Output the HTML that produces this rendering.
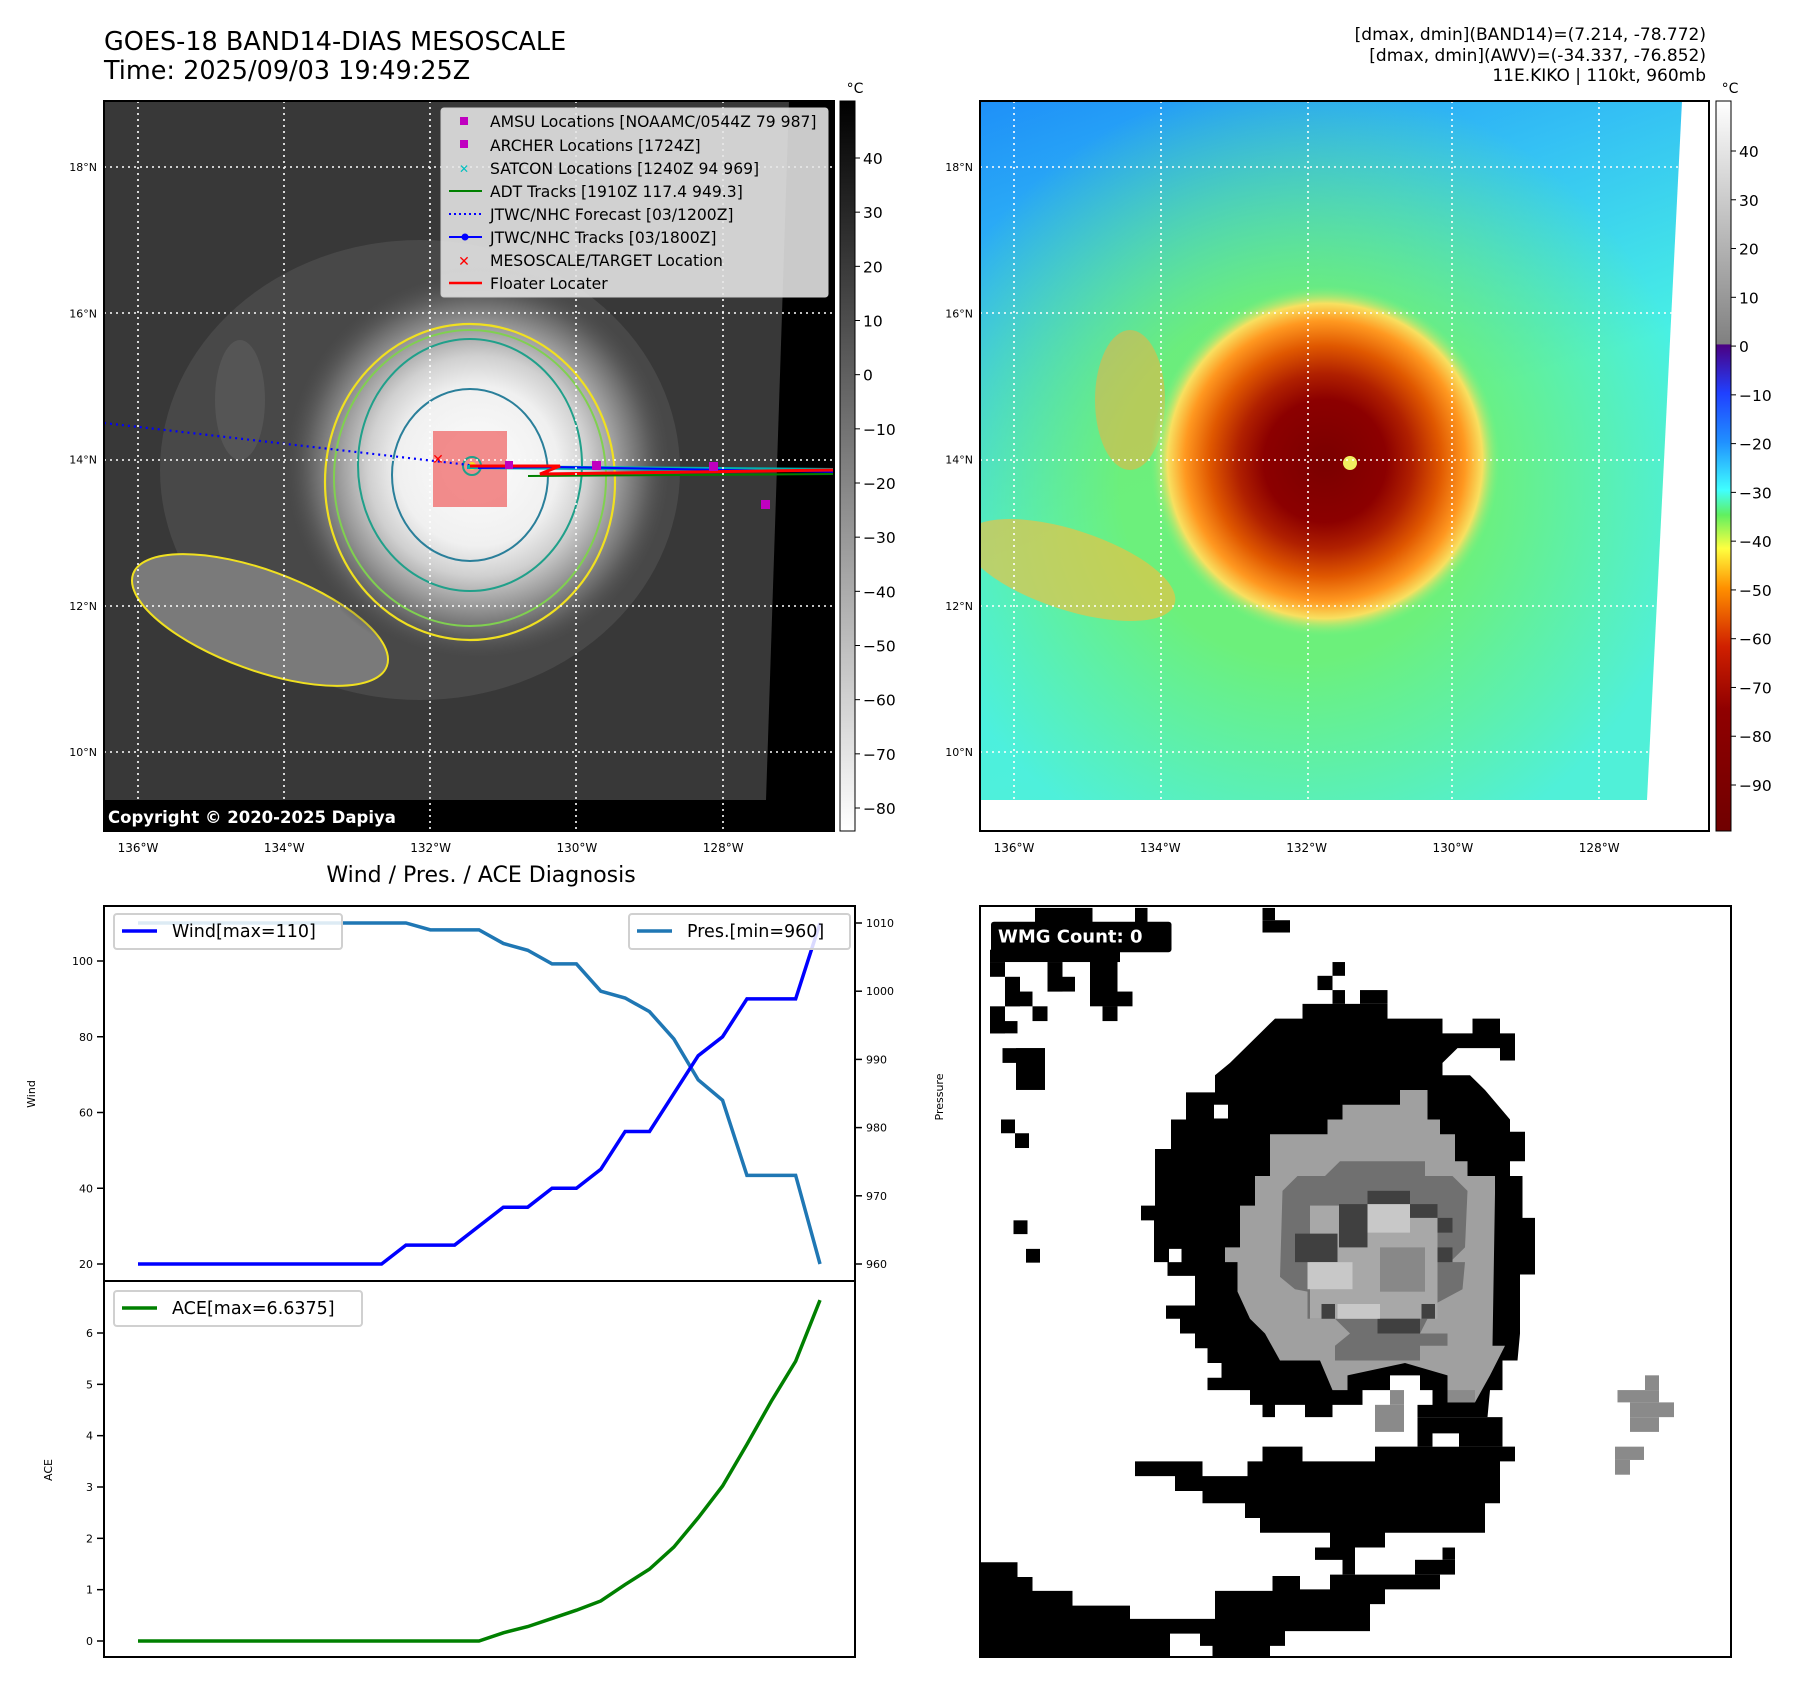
<!DOCTYPE html>
<html><head><meta charset="utf-8"><style>
html,body{margin:0;padding:0;background:#fff}
svg{display:block;font-family:"DejaVu Sans","Liberation Sans",sans-serif}
</style></head><body>
<svg id="root" width="1797" height="1690" viewBox="0 0 1797 1690" xmlns="http://www.w3.org/2000/svg">
<defs>
<clipPath id="c1"><rect x="104" y="101" width="730" height="730"/></clipPath>
<clipPath id="c2"><rect x="980" y="101" width="729" height="730"/></clipPath>
<radialGradient id="storm1" cx="478" cy="466" r="200" gradientUnits="userSpaceOnUse">
<stop offset="0" stop-color="#fcfcfc"/><stop offset="0.4" stop-color="#f0f0f0"/><stop offset="0.55" stop-color="#d0d0d0"/><stop offset="0.7" stop-color="#9a9a9a"/><stop offset="0.85" stop-color="#606060"/><stop offset="1" stop-color="#404040" stop-opacity="0"/></radialGradient>
<linearGradient id="cb1" x1="0" y1="0" x2="0" y2="1"><stop offset="0" stop-color="#000"/><stop offset="1" stop-color="#fff"/></linearGradient>
<linearGradient id="cb2" x1="0" y1="0" x2="0" y2="1">
<stop offset="0" stop-color="#ffffff"/><stop offset="0.333" stop-color="#808080"/><stop offset="0.334" stop-color="#4b0082"/><stop offset="0.40" stop-color="#2040ff"/><stop offset="0.467" stop-color="#2090ff"/><stop offset="0.533" stop-color="#40ffff"/><stop offset="0.567" stop-color="#60f060"/><stop offset="0.613" stop-color="#ffff40"/><stop offset="0.667" stop-color="#ff9000"/><stop offset="0.747" stop-color="#d02000"/><stop offset="0.833" stop-color="#900000"/><stop offset="1" stop-color="#700000"/></linearGradient>
<linearGradient id="bg2" x1="0" y1="0" x2="0.35" y2="1"><stop offset="0" stop-color="#1e90f8"/><stop offset="0.3" stop-color="#34c0f4"/><stop offset="0.6" stop-color="#48f0e4"/><stop offset="1" stop-color="#50f0d8"/></linearGradient>
<radialGradient id="halo2" cx="1300" cy="480" r="400" gradientUnits="userSpaceOnUse"><stop offset="0.45" stop-color="#70f070"/><stop offset="1" stop-color="#70f070" stop-opacity="0"/></radialGradient>
<radialGradient id="storm2" cx="1325" cy="461" r="175" gradientUnits="userSpaceOnUse">
<stop offset="0" stop-color="#7a0000"/><stop offset="0.35" stop-color="#8c0000"/><stop offset="0.5" stop-color="#b02000"/><stop offset="0.66" stop-color="#e05800"/><stop offset="0.8" stop-color="#ff9820"/><stop offset="0.9" stop-color="#f8e060"/><stop offset="1" stop-color="#80f080" stop-opacity="0"/></radialGradient>
</defs>

<text x="104" y="50" font-size="25.5">GOES-18 BAND14-DIAS MESOSCALE</text>
<text x="104" y="79" font-size="25.5">Time: 2025/09/03 19:49:25Z</text>
<g font-size="17" text-anchor="end">
<text x="1706" y="40">[dmax, dmin](BAND14)=(7.214, -78.772)</text>
<text x="1706" y="61">[dmax, dmin](AWV)=(-34.337, -76.852)</text>
<text x="1706" y="81">11E.KIKO | 110kt, 960mb</text>
</g>

<g clip-path="url(#c1)">
<rect x="104" y="101" width="730" height="730" fill="#000"/>
<polygon points="104,101 789,101 766,800 104,800" fill="#383838"/>
<ellipse cx="420" cy="470" rx="260" ry="230" fill="#4c4c4c" opacity="0.8"/>
<ellipse cx="260" cy="620" rx="135" ry="50" transform="rotate(20 260 620)" fill="#7a7a7a"/>
<ellipse cx="260" cy="620" rx="135" ry="50" transform="rotate(20 260 620)" fill="none" stroke="#f0e020" stroke-width="2"/>
<ellipse cx="240" cy="400" rx="25" ry="60" fill="#555"/>
<circle cx="478" cy="466" r="200" fill="url(#storm1)"/>
<ellipse cx="470" cy="482" rx="145" ry="158" fill="none" stroke="#f0e020" stroke-width="2.2"/>
<ellipse cx="470" cy="478" rx="136" ry="148" fill="none" stroke="#80d050" stroke-width="2"/>
<ellipse cx="470" cy="465" rx="112" ry="126" fill="none" stroke="#20a08a" stroke-width="2"/>
<ellipse cx="470" cy="475" rx="78" ry="86" fill="none" stroke="#2a7f9a" stroke-width="2"/>
<rect x="433" y="431" width="74" height="76" fill="#f07070" opacity="0.8"/>
<circle cx="472" cy="466" r="9" fill="none" stroke="#20a08a" stroke-width="2"/>
<circle cx="472" cy="466" r="4" fill="#f0e020"/>
<line x1="104" y1="423" x2="478" y2="466" stroke="#0000ff" stroke-width="2.2" stroke-dasharray="2,4"/>
<polyline points="467,467 838,470" fill="none" stroke="#00b0b0" stroke-width="4"/>
<polyline points="528,476 838,474" fill="none" stroke="#008000" stroke-width="2"/>
<polyline points="478,468 555,467 838,472" fill="none" stroke="#0000ff" stroke-width="2"/>
<polyline points="470,466 560,466 540,474 838,470" fill="none" stroke="#ff0000" stroke-width="3"/>
<g fill="#c000c0"><rect x="505" y="461" width="8" height="8"/><rect x="592" y="461" width="9" height="9"/><rect x="709" y="462" width="9" height="9"/><rect x="761" y="500" width="9" height="9"/></g>
<text x="438" y="464" font-size="14" fill="#ff0000" text-anchor="middle">✕</text>
<g stroke="#fff" stroke-width="1.6" stroke-dasharray="2,4">
<line x1="138" y1="101" x2="138" y2="831"/><line x1="284" y1="101" x2="284" y2="831"/><line x1="430" y1="101" x2="430" y2="831"/><line x1="576" y1="101" x2="576" y2="831"/><line x1="723" y1="101" x2="723" y2="831"/>
<line x1="104" y1="167" x2="834" y2="167"/><line x1="104" y1="313" x2="834" y2="313"/><line x1="104" y1="460" x2="834" y2="460"/><line x1="104" y1="606" x2="834" y2="606"/><line x1="104" y1="752" x2="834" y2="752"/>
</g>
<rect x="104" y="803" width="310" height="28" fill="#000"/>
<text x="108" y="823" font-size="16.5" font-weight="bold" fill="#fff">Copyright © 2020-2025 Dapiya</text>
</g>
<rect x="104" y="101" width="730" height="730" fill="none" stroke="#000" stroke-width="2"/>

<g>
<rect x="441" y="108" width="387" height="189" rx="3" fill="#e6e6e6" fill-opacity="0.88" stroke="#ccc"/>
<g font-size="15.6">
<rect x="460" y="117" width="8" height="8" fill="#c000c0"/><text x="490" y="127">AMSU Locations [NOAAMC/0544Z 79 987]</text>
<rect x="460" y="140" width="8" height="8" fill="#c000c0"/><text x="490" y="151">ARCHER Locations [1724Z]</text>
<text x="464" y="173" fill="#00c0c0" text-anchor="middle" font-size="12">✕</text><text x="490" y="174">SATCON Locations [1240Z 94 969]</text>
<line x1="449" y1="191" x2="482" y2="191" stroke="#008000" stroke-width="2"/><text x="490" y="197">ADT Tracks [1910Z 117.4 949.3]</text>
<line x1="449" y1="214" x2="482" y2="214" stroke="#0000ff" stroke-width="2" stroke-dasharray="2,3"/><text x="490" y="220">JTWC/NHC Forecast [03/1200Z]</text>
<line x1="449" y1="237" x2="482" y2="237" stroke="#0000ff" stroke-width="2"/><circle cx="465" cy="237" r="3.5" fill="#0000ff"/><text x="490" y="243">JTWC/NHC Tracks [03/1800Z]</text>
<text x="464" y="266" fill="#ff0000" text-anchor="middle" font-size="14" font-weight="bold">✕</text><text x="490" y="266">MESOSCALE/TARGET Location</text>
<line x1="449" y1="283" x2="482" y2="283" stroke="#ff0000" stroke-width="2.5"/><text x="490" y="289">Floater Locater</text>
</g></g>

<g>
<rect x="840" y="101" width="15" height="730" fill="url(#cb1)" stroke="#000"/>
<text x="855" y="93" font-size="14" text-anchor="middle">°C</text>
<g font-size="15.5" id="cb1labels"></g>
</g>

<g clip-path="url(#c2)">
<rect x="980" y="101" width="729" height="730" fill="#fff"/>
<polygon points="980,101 1682,101 1647,800 980,800" fill="url(#bg2)"/>
<polygon points="980,101 1682,101 1647,800 980,800" fill="url(#halo2)" opacity="0.9"/>
<ellipse cx="1070" cy="570" rx="110" ry="40" transform="rotate(18 1070 570)" fill="#f0c040" opacity="0.65"/>
<ellipse cx="1130" cy="400" rx="35" ry="70" fill="#f0b040" opacity="0.55"/>
<circle cx="1325" cy="461" r="175" fill="url(#storm2)"/>
<circle cx="1350" cy="463" r="7" fill="#f0f060"/>
<g stroke="#fff" stroke-width="1.6" stroke-dasharray="2,4">
<line x1="1014" y1="101" x2="1014" y2="831"/><line x1="1161" y1="101" x2="1161" y2="831"/><line x1="1308" y1="101" x2="1308" y2="831"/><line x1="1452" y1="101" x2="1452" y2="831"/><line x1="1599" y1="101" x2="1599" y2="831"/>
<line x1="980" y1="167" x2="1709" y2="167"/><line x1="980" y1="313" x2="1709" y2="313"/><line x1="980" y1="460" x2="1709" y2="460"/><line x1="980" y1="606" x2="1709" y2="606"/><line x1="980" y1="752" x2="1709" y2="752"/>
</g>
</g>
<rect x="980" y="101" width="729" height="730" fill="none" stroke="#000" stroke-width="2"/>
<g>
<rect x="1716" y="101" width="15" height="730" fill="url(#cb2)" stroke="#000"/>
<text x="1730" y="93" font-size="14" text-anchor="middle">°C</text>
<g font-size="15.5" id="cb2labels"></g>
</g>

<g font-size="11" id="maplabels"></g>

<text x="481" y="882" font-size="22" text-anchor="middle">Wind / Pres. / ACE Diagnosis</text>
<g id="chart"></g>

<g>
<rect x="980" y="906" width="751" height="751" fill="#fff"/>
<g transform="translate(980,903) scale(0.5,0.492)">
<polygon fill="#000" points="470,410 470,350 500,325 530,295 560,265 590,235 645,235 645,205 815,205 815,235 925,235 925,265 985,265 985,235 1040,235 1040,265 1070,265 1070,320 1040,320 1040,295 955,295 925,325 925,350 980,350 1010,380 1035,410 1060,440 1060,465 1090,465 1090,525 1060,525 1060,555 1085,555 1085,640 1110,640 1110,755 1080,755 1080,875 1075,930 1045,930 1045,990 1020,990 1015,1045 875,1045 875,1020 905,1020 905,990 880,990 880,960 820,960 820,990 765,990 765,1020 705,1020 705,1045 650,1045 650,1020 590,1020 590,1045 565,1045 565,1020 540,1020 540,990 455,990 455,965 483,965 483,935 455,935 455,905 430,905 430,875 400,875 400,845 372,845 372,818 430,818 430,758 375,758 375,730 348,730 348,645 322,645 322,615 350,615 350,500 382,500 382,440 412,440 412,385 470,385"/>
<rect x="468" y="410" width="28" height="28" fill="#fff"/><rect x="378" y="703" width="25" height="27" fill="#fff"/>
<polygon fill="#a0a0a0" points="580,470 695,470 695,440 725,440 725,410 840,410 840,380 895,380 895,440 920,440 920,470 950,470 950,525 975,525 975,555 1030,555 1030,590 1025,900 1050,900 1020,960 990,1015 935,1015 935,960 850,935 735,960 735,990 705,990 680,930 600,930 570,875 540,845 515,790 515,730 490,730 490,700 520,700 520,615 550,615 550,555 580,555"/>
<polygon fill="#707070" points="635,555 690,555 720,525 890,525 890,555 945,555 975,585 970,700 940,730 970,730 965,785 910,815 880,875 935,875 935,900 880,900 880,930 710,930 710,900 740,875 710,845 655,845 655,790 630,785 600,760 605,585"/>
<rect x="660" y="615" width="255" height="230" fill="#a8a8a8"/>
<g fill="#404040"><rect x="775" y="585" width="85" height="28"/><rect x="718" y="612" width="57" height="88"/><rect x="860" y="612" width="55" height="28"/><rect x="630" y="672" width="85" height="58"/><rect x="795" y="845" width="85" height="30"/><rect x="915" y="640" width="30" height="30"/><rect x="915" y="700" width="30" height="30"/><rect x="683" y="815" width="27" height="30"/><rect x="883" y="815" width="27" height="30"/></g>
<g fill="#c8c8c8"><rect x="775" y="612" width="85" height="58"/><rect x="655" y="730" width="90" height="55"/><rect x="715" y="815" width="85" height="30"/></g>
<rect x="800" y="700" width="90" height="90" fill="#888"/>
<polygon fill="#000" points="310,1135 445,1135 445,1165 535,1165 535,1135 565,1135 565,1105 645,1105 645,1135 790,1135 790,1105 1070,1105 1070,1135 1040,1135 1040,1220 1010,1220 1010,1280 810,1280 810,1310 750,1310 750,1365 725,1365 725,1335 670,1335 670,1310 700,1310 700,1280 560,1280 560,1250 530,1250 530,1220 445,1220 445,1195 390,1195 390,1165 310,1165"/>
<rect x="875" y="1045" width="170" height="60" fill="#000"/><rect x="905" y="1078" width="53" height="27" fill="#fff"/>
<polygon fill="#000" points="0,1340 75,1340 75,1370 105,1370 105,1398 185,1398 185,1428 300,1428 300,1455 470,1455 470,1398 585,1398 585,1368 640,1368 640,1395 700,1395 700,1365 920,1365 920,1395 810,1395 810,1425 780,1425 780,1480 610,1480 610,1510 580,1510 580,1533 465,1533 465,1510 440,1510 440,1485 380,1485 380,1533 0,1533"/>
<rect x="870" y="1335" width="80" height="30" fill="#000"/><rect x="925" y="1310" width="25" height="25" fill="#000"/>
<g fill="#000"><rect x="110" y="10" width="115" height="30"/><rect x="310" y="10" width="25" height="30"/><rect x="565" y="10" width="25" height="25"/><rect x="565" y="35" width="55" height="25"/><rect x="20" y="95" width="260" height="25"/><rect x="20" y="120" width="30" height="30"/><rect x="135" y="120" width="30" height="60"/><rect x="135" y="150" width="55" height="30"/><rect x="220" y="100" width="55" height="110"/><rect x="245" y="180" width="60" height="30"/><rect x="245" y="210" width="30" height="30"/><rect x="50" y="150" width="30" height="60"/><rect x="50" y="180" width="55" height="30"/><rect x="20" y="210" width="30" height="55"/><rect x="20" y="240" width="55" height="25"/><rect x="105" y="210" width="30" height="30"/><rect x="45" y="295" width="85" height="30"/><rect x="72" y="295" width="58" height="85"/><rect x="42" y="440" width="28" height="28"/><rect x="70" y="468" width="28" height="30"/><rect x="67" y="645" width="28" height="28"/><rect x="92" y="703" width="28" height="28"/><rect x="705" y="120" width="25" height="28"/><rect x="675" y="148" width="30" height="29"/><rect x="705" y="177" width="25" height="28"/><rect x="760" y="177" width="55" height="28"/></g>
<g fill="#8a8a8a"><rect x="1330" y="960" width="28" height="30"/><rect x="1275" y="990" width="83" height="25"/><rect x="1300" y="1015" width="88" height="30"/><rect x="1300" y="1045" width="58" height="30"/><rect x="1270" y="1105" width="58" height="27"/><rect x="1270" y="1132" width="30" height="30"/><rect x="820" y="990" width="28" height="30"/><rect x="790" y="1020" width="58" height="55"/><rect x="935" y="990" width="55" height="25"/></g>
<rect x="22" y="38" width="361" height="62" rx="6" fill="#000"/>
<text x="36" y="80" font-size="36" font-weight="bold" fill="#fff">WMG Count: 0</text>
</g>
<rect x="980" y="906" width="751" height="751" fill="none" stroke="#000" stroke-width="2"/>
</g>
</svg>
<script>
const categories = Array.from({length:29},(_, i)=>i);
const windValues = [20,20,20,20,20,20,20,20,20,20,20,25,25,25,30,35,35,40,40,45,55,55,65,75,80,90,90,90,110];
const presValues = [1010,1010,1010,1010,1010,1010,1010,1010,1010,1010,1010,1010,1009,1009,1009,1007,1006,1004,1004,1000,999,997,993,987,984,973,973,973,960];
const aceValues = [0,0,0,0,0,0,0,0,0,0,0,0,0,0,0,0.16,0.28,0.44,0.6,0.78,1.1,1.4,1.83,2.4,3.02,3.83,4.67,5.45,6.64];
const windTicks = [20,40,60,80,100];
const presTicks = [960,970,980,990,1000,1010];
const aceTicks = [0,1,2,3,4,5,6];
const cb1Ticks = [40,30,20,10,0,-10,-20,-30,-40,-50,-60,-70,-80];
const cb2Ticks = [40,30,20,10,0,-10,-20,-30,-40,-50,-60,-70,-80,-90];
const latTicks = ["18°N","16°N","14°N","12°N","10°N"];
const lonTicks = ["136°W","134°W","132°W","130°W","128°W"];

const NS='http://www.w3.org/2000/svg';
function mk(tag, attrs, parent){const e=document.createElementNS(NS,tag);for(const k in attrs)e.setAttribute(k,attrs[k]);parent.appendChild(e);return e;}
const L=104,R=855,T1=906,B1=1281,B2=1657;
const x=i=>138+i*(820-138)/(categories.length-1);
const yW=v=>1264-(v-20)*(1264-961)/80;
const yP=p=>1264-(p-960)*(1264-923)/50;
const yA=a=>1641-a*(1641-1333)/6;
const chart=document.getElementById('chart');
function line(vals,fy,color,name){const p=mk('polyline',{points:vals.map((v,i)=>x(i)+','+fy(v)).join(' '),fill:'none',stroke:color,'stroke-width':3.5},chart);

}
line(presValues,yP,'#1f77b4','pressure-line');
line(windValues,yW,'#0000ff','wind-line');
line(aceValues,yA,'#008000','ace-line');
function txt(s,a,parent){const t=mk('text',a,parent);t.textContent=s;return t;}
windTicks.forEach(v=>{mk('line',{x1:L-7,x2:L,y1:yW(v),y2:yW(v),stroke:'#000','stroke-width':1.5},chart);const t=txt(v,{x:L-11,y:yW(v)+4,'font-size':11,'text-anchor':'end'},chart);

});
presTicks.forEach(v=>{mk('line',{x1:R,x2:R+7,y1:yP(v),y2:yP(v),stroke:'#000','stroke-width':1.5},chart);const t=txt(v,{x:R+11,y:yP(v)+4,'font-size':11},chart);

});
aceTicks.forEach(v=>{mk('line',{x1:L-7,x2:L,y1:yA(v),y2:yA(v),stroke:'#000','stroke-width':1.5},chart);const t=txt(v,{x:L-11,y:yA(v)+4,'font-size':11,'text-anchor':'end'},chart);

});
mk('rect',{x:L,y:T1,width:R-L,height:B1-T1,fill:'none',stroke:'#000','stroke-width':2},chart);
mk('rect',{x:L,y:B1,width:R-L,height:B2-B1,fill:'none',stroke:'#000','stroke-width':2},chart);
const yl=txt('Wind',{x:0,y:0,'font-size':11,transform:'translate(35,1094) rotate(-90)','text-anchor':'middle'},chart);


const pl=txt('Pressure',{x:0,y:0,'font-size':11,transform:'translate(943,1097) rotate(-90)','text-anchor':'middle'},chart);


const al=txt('ACE',{x:0,y:0,'font-size':11,transform:'translate(52,1470) rotate(-90)','text-anchor':'middle'},chart);


function legend(x0,y0,w,label,color,name){const g=mk('g',{},chart);


mk('rect',{x:x0,y:y0,width:w,height:35,rx:3,fill:'#fff','fill-opacity':0.85,stroke:'#d0d0d0','stroke-width':2},g);
mk('line',{x1:x0+8,x2:x0+43,y1:y0+17,y2:y0+17,stroke:color,'stroke-width':3.5},g);
txt(label,{x:x0+58,y:y0+23,'font-size':17.5},g);}
legend(114,914,228,'Wind[max=110]','#0000ff','wind-legend');
legend(629,914,221,'Pres.[min=960]','#1f77b4','pressure-legend');
legend(114,1291,248,'ACE[max=6.6375]','#008000','ace-legend');

const g1=document.getElementById('cb1labels');
cb1Ticks.forEach(v=>{const y=158+(40-v)*(808-158)/120;mk('line',{x1:855,x2:860,y1:y,y2:y,stroke:'#000'},g1);const t=txt(v<0?'−'+(-v):v,{x:863,y:y+6},g1);

});
const g2=document.getElementById('cb2labels');
cb2Ticks.forEach(v=>{const y=151+(40-v)*(785-151)/130;mk('line',{x1:1731,x2:1736,y1:y,y2:y,stroke:'#000'},g2);const t=txt(v<0?'−'+(-v):v,{x:1739,y:y+6},g2);

});
const ml=document.getElementById('maplabels');
latTicks.forEach((s,i)=>{const y=167+i*146.3;[97,973].forEach(xx=>{const t=txt(s,{x:xx,y:y+4,'text-anchor':'end'},ml);

});});
lonTicks.forEach((s,i)=>{[138,1014].forEach(x0=>{const t=txt(s,{x:x0+i*146.3,y:852,'text-anchor':'middle','font-size':12},ml);

});});
</script>
</body></html>
